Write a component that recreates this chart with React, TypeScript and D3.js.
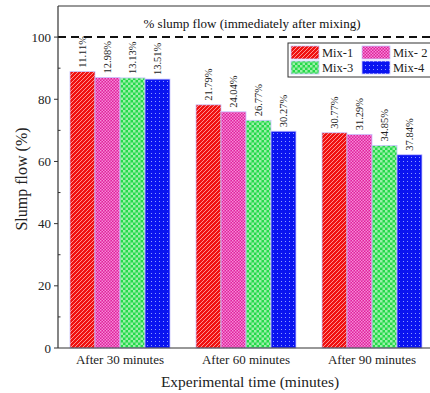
import React from "react";
import * as d3 from "d3";

const groups = ["After 30 minutes", "After 60 minutes", "After 90 minutes"];
const mixes = ["Mix-1", "Mix- 2", "Mix-3", "Mix-4"];
const reductionLabels = [
  ["11.11%", "12.98%", "13.13%", "13.51%"],
  ["21.79%", "24.04%", "26.77%", "30.27%"],
  ["30.77%", "31.29%", "34.85%", "37.84%"],
];
const mix1 = [88.89, 78.21, 69.23];
const mix2 = [87.02, 75.96, 68.71];
const mix3 = [86.87, 73.23, 65.15];
const mix4 = [86.49, 69.73, 62.16];
const seriesValues = [mix1, mix2, mix3, mix4];
const yTicks = [0, 20, 40, 60, 80, 100];
const yMinorTicks = [10, 30, 50, 70, 90];
const referenceValue = 100;

const W = 430;
const H = 393;
const left = 58;
const top = 6;
const bottom = 348;
const rightEdge = 436;

const font = "'Liberation Serif', 'Times New Roman', serif";

export default function App() {
  const xGroup = d3.scaleBand<string>().domain(groups).range([left, rightEdge]).padding(0);
  const bw = xGroup.bandwidth();
  const xInner = d3.scaleBand<string>().domain(mixes).range([12, bw - 14]).padding(0);
  const y = d3.scaleLinear().domain([0, 110]).range([bottom, top]);
  const fills = ["url(#p1)", "url(#p2)", "url(#p3)", "url(#p4)"];

  return (
    <svg
      width={W}
      height={H}
      style={{ position: "absolute", left: 0, top: 0, background: "#fff" }}
      fontFamily={font}
    >
      <defs>
        <pattern id="p1" patternUnits="userSpaceOnUse" width="4" height="4">
          <rect width="4" height="4" fill="#f01010" />
          <path d="M-1,1 l2,-2 M0,4 l4,-4 M3,5 l2,-2" stroke="#ffa0a0" strokeWidth="0.9" />
        </pattern>
        <pattern id="p2" patternUnits="userSpaceOnUse" width="3" height="3">
          <rect width="3" height="3" fill="#e0209a" />
          <rect x="0" y="0" width="1.5" height="1.5" fill="#f58ad8" />
          <rect x="1.5" y="1.5" width="1.5" height="1.5" fill="#f58ad8" />
        </pattern>
        <pattern id="p3" patternUnits="userSpaceOnUse" width="5" height="5">
          <rect width="5" height="5" fill="#25d94a" />
          <rect x="0" y="0" width="2.5" height="2.5" fill="#9af0a8" />
          <rect x="2.5" y="2.5" width="2.5" height="2.5" fill="#9af0a8" />
        </pattern>
        <pattern id="p4" patternUnits="userSpaceOnUse" width="4" height="4">
          <rect width="4" height="4" fill="#0a14f0" />
          <rect x="1" y="1" width="1" height="1" fill="#8f9bff" />
        </pattern>
      </defs>

      {/* bars */}
      {groups.map((g, gi) => (
        <g key={g} transform={`translate(${xGroup(g)},0)`}>
          {mixes.map((m, mi) => {
            const v = seriesValues[mi][gi];
            const x0 = xInner(m) as number;
            const w = xInner.bandwidth();
            return (
              <g key={m}>
                <rect
                  x={x0}
                  y={y(v)}
                  width={w}
                  height={bottom - y(v)}
                  fill={fills[mi]}
                  stroke="#c9c4ff"
                  strokeWidth={0.8}
                />
                <text
                  transform={`translate(${x0 + w / 2 + 3.5},${y(v) - 4}) rotate(-90)`}
                  fontSize={10.5}
                  fill="#222"
                >
                  {reductionLabels[gi][mi]}
                </text>
              </g>
            );
          })}
        </g>
      ))}

      {/* reference dashed line */}
      <line
        x1={left}
        x2={W}
        y1={y(referenceValue)}
        y2={y(referenceValue)}
        stroke="#111"
        strokeWidth={2}
        strokeDasharray="8,5"
      />
      <text x={252} y={28} textAnchor="middle" fontSize={13} fill="#111">
        % slump flow (immediately after mixing)
      </text>

      {/* frame */}
      <line x1={left} x2={W} y1={top} y2={top} stroke="#333" strokeWidth={1.2} />
      <line x1={left} x2={left} y1={top} y2={bottom} stroke="#333" strokeWidth={1.2} />
      <line x1={left} x2={W} y1={bottom} y2={bottom} stroke="#333" strokeWidth={1.2} />

      {/* y ticks */}
      {yTicks.map((t) => (
        <g key={t}>
          <line x1={left - 4} x2={left} y1={y(t)} y2={y(t)} stroke="#333" strokeWidth={1} />
          <text x={left - 7} y={y(t) + 4.5} textAnchor="end" fontSize={13} fill="#222">
            {t}
          </text>
        </g>
      ))}
      {yMinorTicks.map((t) => (
        <line key={t} x1={left} x2={left + 2.5} y1={y(t)} y2={y(t)} stroke="#333" strokeWidth={1} />
      ))}

      {/* x labels */}
      {groups.map((g) => (
        <text
          key={g}
          x={(xGroup(g) as number) + 12 + (bw - 26) / 2}
          y={364}
          textAnchor="middle"
          fontSize={13}
          fill="#222"
        >
          {g}
        </text>
      ))}
      <text x={250} y={387} textAnchor="middle" fontSize={15.5} fill="#222">
        Experimental time (minutes)
      </text>
      <text
        transform={`translate(27,${(top + bottom) / 2 + 2}) rotate(-90)`}
        textAnchor="middle"
        fontSize={16}
        fill="#222"
      >
        Slump flow  (%)
      </text>

      {/* legend */}
      <rect x={288} y={43} width={150} height={34} fill="#fff" stroke="#333" strokeWidth={1} />
      {mixes.map((m, i) => {
        const col = i % 2;
        const row = Math.floor(i / 2);
        const sx = 291 + col * 71;
        const sy = 46 + row * 15;
        return (
          <g key={m}>
            <rect x={sx} y={sy} width={28} height={13} fill={fills[i]} stroke="#c9c4ff" strokeWidth={0.8} />
            <text x={sx + 31} y={sy + 11} fontSize={12.5} fill="#222">
              {m}
            </text>
          </g>
        );
      })}
    </svg>
  );
}
